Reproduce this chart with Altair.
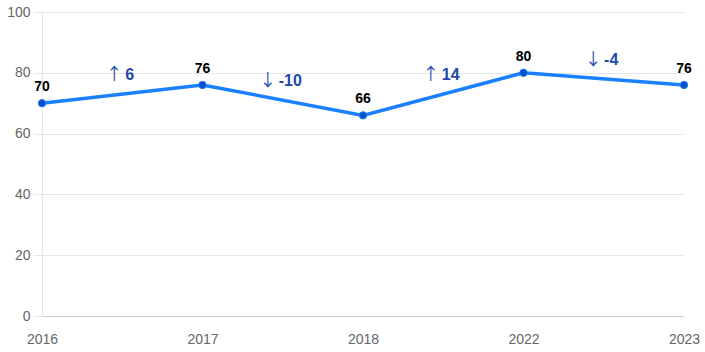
import altair as alt
import pandas as pd

years = ["2016", "2017", "2018", "2022", "2023"]
values = [70, 76, 66, 80, 76]

idx = list(range(len(years)))
df = pd.DataFrame({"i": idx, "year": years, "value": values})

mid_i = [i + 0.5 for i in idx[:-1]]
mid_v = [(values[i] + values[i + 1]) / 2 for i in idx[:-1]]
diffs = [values[i + 1] - values[i] for i in idx[:-1]]
arrows = ["↑" if d > 0 else "↓" for d in diffs]
nums = [str(d) for d in diffs]
ann = pd.DataFrame({"i": mid_i, "value": mid_v, "arrow": arrows, "num": nums})

label_expr = "[" + ",".join("'" + y + "'" for y in years) + "][datum.value]"

x = alt.X("i:Q", scale=alt.Scale(domain=[0, len(years) - 1], nice=False, zero=False),
          axis=alt.Axis(values=idx, labelExpr=label_expr, title=None, grid=False,
                        ticks=False, domainColor="#cccccc", labelColor="#666666",
                        labelFontSize=14, labelPadding=16, labelFont="Liberation Sans",
                        labelFlush=False))
y = alt.Y("value:Q", scale=alt.Scale(domain=[0, 100], nice=False),
          axis=alt.Axis(values=[0, 20, 40, 60, 80, 100], title=None, gridColor="#e6e6e6",
                        domainColor="#e6e6e6", tickColor="#e6e6e6", tickSize=9,
                        labelColor="#666666", labelFontSize=14, labelPadding=3,
                        labelFont="Liberation Sans"))

# approximate half width of "arrow + gap + number" for centring the pair
half_w = "(15 + 8.9*length(replace(datum.num,'-','')) + (indexof(datum.num,'-')>=0?5.3:0))/2"

base = alt.Chart(df)
line = base.mark_line(color="#1a80ff", strokeWidth=3.5).encode(x=x, y=y)
pts = base.mark_point(filled=True, size=55, color="#0a4fc4", opacity=1,
                      stroke="#1a80ff", strokeWidth=1).encode(x=x, y=y)
txt = base.mark_text(font="Liberation Sans", fontSize=14, fontWeight="bold",
                     color="#000000", baseline="bottom", dy=-9).encode(
    x=x, y=y, text="value:Q")
annbase = alt.Chart(ann)
arrowtxt = annbase.mark_text(font="Noto Sans CJK JP", fontSize=17, fontWeight="normal",
                             color="#2a52b0", baseline="middle", align="center",
                             dy=-19, dx=alt.expr("4 - " + half_w)).encode(
    x=x, y=y, text="arrow:N")
numtxt = annbase.mark_text(font="Liberation Sans", fontSize=16, fontWeight="bold",
                           color="#1f48a8", baseline="middle", align="right",
                           dy=-19, dx=alt.expr(half_w)).encode(
    x=x, y=y, text="num:N")

chart = alt.layer(line, pts, txt, arrowtxt, numtxt).properties(
    width=642, height=304,
    autosize=alt.AutoSizeParams(type="none"),
    padding={"left": 42, "top": 12, "right": 21, "bottom": 36},
    background="white",
).configure_view(stroke=None)

chart.save("out.html", embed_options={"renderer": "svg", "actions": False})
